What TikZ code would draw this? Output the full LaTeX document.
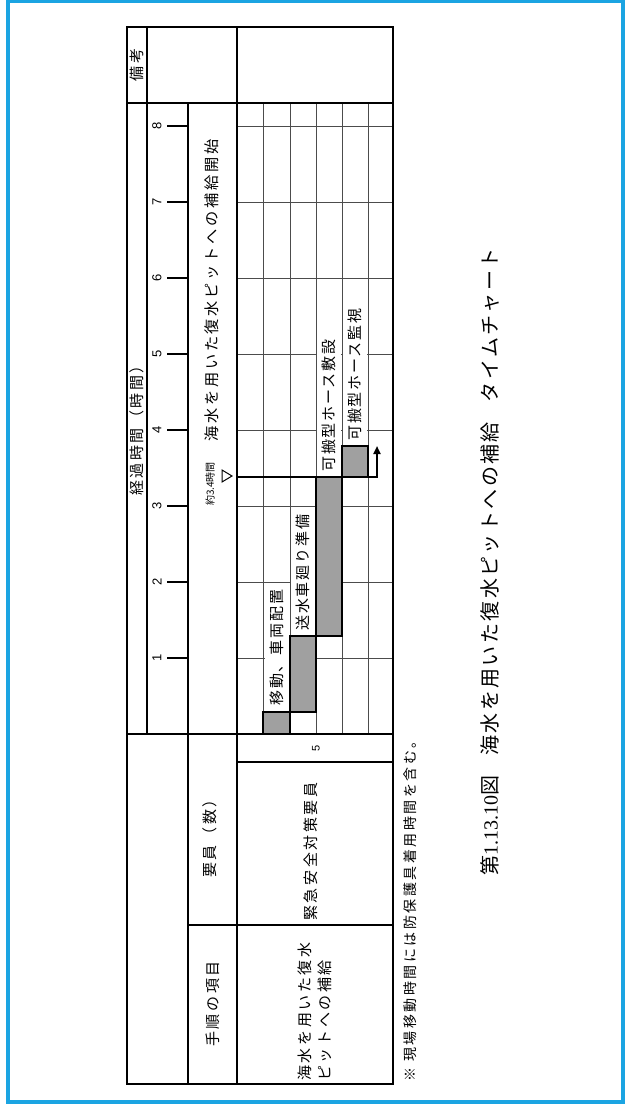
\documentclass[tikz,border=0pt]{standalone}
\usepackage{fontspec}
\setmainfont{Noto Sans CJK JP}
\newfontfamily\lsans{Liberation Sans}
\newfontfamily\lserif{Liberation Serif}
\usetikzlibrary{arrows.meta}
\definecolor{framecyan}{RGB}{27,164,226}
\definecolor{bargray}{RGB}{160,160,160}
\begin{document}
\begin{tikzpicture}[x=0.5pt,y=-0.5pt,
  thickline/.style={line width=1pt, line cap=rect},
  gridline/.style={line width=0.45pt, draw=black!70},
  tickline/.style={line width=1.2pt},
  barbox/.style={draw=black, line width=1pt, fill=bargray},
  jt/.style={rotate=90, inner sep=0pt, font=\fontsize{7.5}{8}\selectfont\addfontfeature{LetterSpace=17}},
  jsmall/.style={rotate=90, inner sep=0pt, font=\fontsize{5}{6}\selectfont},
  digit/.style={rotate=90, inner sep=0pt, font=\lsans\fontsize{6.5}{7}\selectfont},
  lbl/.style={rotate=90, anchor=west, fill=white, inner xsep=1pt, inner ysep=0pt, minimum height=12pt,
    font=\fontsize{7.5}{8}\selectfont\addfontfeature{LetterSpace=12}},
  arrowline/.style={line width=1.1pt, -{Triangle[length=4pt,width=3.5pt]}}
]
\useasboundingbox (0,0) rectangle (625,1107);
% outer frame
\draw[framecyan, line width=1.8pt] (8,1.5) rectangle (623,1102);

% grid (thin)
\foreach \xx in {263,290,316,342,368} \draw[gridline] (\xx,103) -- (\xx,734);
\foreach \h in {1,...,8} \draw[gridline] (237,734-76*\h) -- (393,734-76*\h);

% table lines (thick)
\draw[thickline] (127,27) rectangle (393,1084);
\draw[thickline] (147,27) -- (147,734);
\draw[thickline] (127,103) -- (393,103);
\draw[thickline] (237,27) -- (237,1084);
\draw[thickline] (188,103) -- (188,1084);
\draw[thickline] (127,734) -- (393,734);
\draw[thickline] (188,925) -- (393,925);
\draw[line width=0.8pt] (237,762) -- (393,762);

% ticks
\foreach \h in {1,...,8} {
  \draw[tickline] (167,734-76*\h) -- (188,734-76*\h);
  \node[digit] (t\h) at (157,734-76*\h) {\h};
}

% bars
\path[barbox] (263,712) rectangle (290,734);
\path[barbox] (290,636) rectangle (316,712);
\path[barbox] (316,477) rectangle (342,636);
\path[barbox] (342,446) rectangle (368,477);

% labels
\node[lbl] (l1) at (276.5,708) {移動、車両配置};
\node[lbl] (l2) at (303,633) {送水車廻り準備};
\node[lbl] (l3) at (329,474) {可搬型ホース敷設};
\node[lbl] (l4) at (355,443) {可搬型ホース監視};

% arrow
\draw[line width=0.5pt] (222,470) -- (232,476) -- (222,482) -- cycle;
\coordinate (start) at (237,477);
\coordinate (bend) at (377,477);
\coordinate (tip) at (377,446);
\draw[arrowline] (start) -- (bend) -- (tip);

% header texts
\node[jt] (bikou) at (137,65) {備考};
\node[jt] (keika) at (137,427) {経過時間（時間）};
\node[jt, anchor=west, font=\fontsize{7.6}{8}\selectfont\addfontfeature{LetterSpace=18}] (kaishi) at (212,442) {海水を用いた復水ピットへの補給開始};
\node[jsmall] (yaku) at (210,484) {約3.4時間};
\node[jt] (youin) at (210,835) {要員（数）};
\node[jt] (koumoku) at (213,1004) {手順の項目};
\node[digit, font=\lsans\fontsize{5.5}{6}\selectfont] (five) at (316,748) {5};
\node[jt, anchor=west] (kinkyu) at (311,921) {緊急安全対策要員};
\node[jt, anchor=west, align=left, font=\fontsize{7.5}{10}\selectfont\addfontfeature{LetterSpace=17}] (kaisui) at (315,1081) {海水を用いた復水\\ピットへの補給};

% note and caption
\node[rotate=90, anchor=west, inner sep=0pt, font=\fontsize{7}{8}\selectfont\addfontfeature{LetterSpace=18}] (note) at (410,1082) {※ 現場移動時間には防保護具着用時間を含む。};
\node[rotate=90, inner sep=0pt, font=\fontsize{10}{11}\selectfont\addfontfeature{LetterSpace=12}] (cap) at (490,562) {第{\lserif 1.13.10}図\quad 海水を用いた復水ピットへの補給\quad タイムチャート};
\end{tikzpicture}
\end{document}
